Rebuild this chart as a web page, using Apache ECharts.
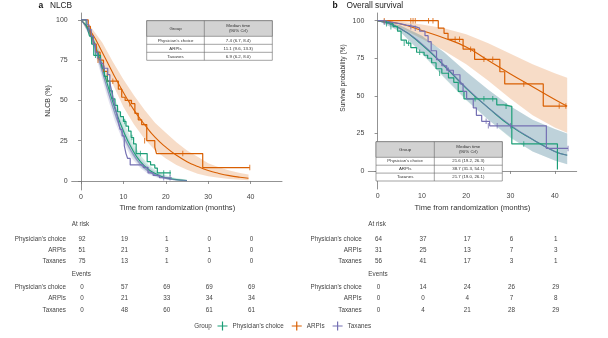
<!DOCTYPE html>
<html>
<head>
<meta charset="utf-8">
<script src="https://cdn.jsdelivr.net/npm/echarts@6/dist/echarts.min.js"></script>
<style>
html,body{margin:0;padding:0;background:#fff;}
#chart{width:608px;height:338px;}
</style>
</head>
<body>
<div id="chart"></div>
<script>
// ---- groups and shared ticks ----
const groups = ["Physician's choice", 'ARPIs', 'Taxanes'];
const colors = ['#1b9e77', '#d95f02', '#7570b3'];
const monthTicks = [0, 10, 20, 30, 40];
const pctTicks = [0, 25, 50, 75, 100];

// ---- panel a: NLCB, Kaplan–Meier steps (months, %) ----
const nlcbPhysT = [0, 1.2, 1.6, 2.0, 2.5, 3.0, 4.6, 5.0, 5.5, 6.2, 6.8, 7.4, 8.0, 8.6, 9.3, 10.0, 10.6, 11.2, 11.8, 12.4, 13.0, 15.6, 16.4, 17.4, 18.0, 21.2];
const nlcbPhysS = [100, 97, 94, 90, 85, 78, 75, 70, 65, 62, 56, 51, 47, 43, 40, 37, 34, 31, 27, 23, 17, 12, 10, 8, 5, 5];
const nlcbArpiT = [0, 1.7, 2.2, 2.9, 3.6, 4.5, 5.3, 6.2, 8.8, 9.6, 10.4, 11.9, 12.7, 13.5, 14.3, 15.5, 17.4, 17.8, 28.7, 39.8];
const nlcbArpiS = [100, 96, 90, 85, 80, 75, 68, 62, 57, 52, 50, 48, 42, 38, 35, 25, 21, 17, 8.3, 8.3];
const nlcbTaxT = [0, 1.4, 1.9, 2.4, 2.9, 3.4, 4.0, 4.6, 5.2, 6.3, 6.8, 7.2, 7.6, 8.0, 8.4, 8.8, 9.2, 9.7, 10.2, 10.6, 11.0, 11.6, 14.7, 15.8, 17.0, 18.5, 21.4];
const nlcbTaxS = [100, 97, 94, 90, 85, 80, 76, 73, 70, 66, 61, 56, 51, 46, 42, 37, 32, 28, 22, 17, 14, 10, 8.5, 5, 3.5, 2, 2];

// censored observations (months, %)
const nlcbPhysCensT = [3.4, 4.1, 10.3, 12.0, 14.0, 19.5, 21.0];
const nlcbPhysCensS = [78, 78, 37, 27, 17, 5, 5];
const nlcbArpiCensT = [4.0, 7.5, 11.5, 15.0, 24.0, 39.8];
const nlcbArpiCensS = [75, 62, 48, 25, 17, 8.3];
const nlcbTaxCensT = [1.7, 5.5, 19.5, 21.0];
const nlcbTaxCensS = [94, 70, 2, 2];

// fitted curves with 90% credible bands
const nlcbFitT = [0, 2, 4, 6, 8, 10, 12, 14, 16, 18, 20, 22, 25];
const nlcbPhysFit = [100, 93, 79, 62, 45, 31, 20, 12, 7, 4, 2, 1, 0.3];
const nlcbPhysLo = [100, 91, 75, 57, 40, 26, 16, 9, 5, 2.5, 1.2, 0.5, 0.1];
const nlcbPhysHi = [100, 95, 83, 67, 51, 37, 25, 16, 10, 6, 3.5, 2, 0.8];
const nlcbTaxFit = [100, 92, 77, 59, 42, 28, 18, 10.5, 6, 3.2, 1.6, 0.8, 0.2];
const nlcbTaxLo = [100, 90, 73, 54, 37, 24, 14, 8, 4, 2, 1, 0.4, 0.1];
const nlcbTaxHi = [100, 94, 81, 64, 47, 33, 22, 14, 8.5, 5, 2.8, 1.5, 0.5];
const nlcbArpiFitT = [0, 2.5, 5, 7.5, 10, 12.5, 15, 17.5, 20, 22.5, 25, 27.5, 30, 32.5, 35, 37.5, 39.5];
const nlcbArpiFit = [100, 92, 80, 67, 55, 44, 35, 27, 21, 16, 12, 9, 6.5, 4.7, 3.3, 2.3, 1.7];
const nlcbArpiLo = [100, 89, 74, 60, 46, 35, 26, 19, 14, 10, 7, 4.5, 3, 2, 1.2, 0.7, 0.4];
const nlcbArpiHi = [100, 95, 86, 74, 63, 53, 44, 36, 30, 24, 19, 15, 11, 8.5, 6.5, 5, 4];

// ---- panel b: overall survival ----
const osPhysT = [0, 1.2, 2.2, 3.5, 4.5, 5.3, 6.5, 7.5, 8.8, 10.5, 11.3, 12.2, 13.2, 14.5, 16.0, 17.2, 18.2, 19.5, 26.9, 28.5, 30.3, 40.6];
const osPhysS = [100, 99, 98, 96, 93, 87, 85, 82, 79, 77, 75, 72, 68, 65, 62, 59, 53, 48, 44, 43, 18, 1];
const osArpiT = [0, 13.7, 15.0, 15.9, 19.3, 21.9, 27.6, 28.7, 37.4, 42.7];
const osArpiS = [100, 95, 91.6, 87.6, 81, 74.3, 66, 57.9, 43.2, 43.2];
const osTaxT = [0, 1.5, 3, 5, 6.5, 8.5, 9.5, 10.7, 11.4, 12.1, 13.3, 14.5, 15.6, 17.1, 18.6, 19.3, 20.1, 21.6, 22.3, 23.5, 25.3, 38.1, 43];
const osTaxS = [100, 99, 98, 97, 96, 95, 93, 90, 86, 80, 74, 70, 67, 64, 58, 53, 48, 42, 37, 33, 30, 15, 15];

const osPhysCensT = [2.0, 3.0, 6.0, 7.0, 9.5, 14.0, 22.0, 24.0, 26.0, 29.0, 33.0];
const osPhysCensS = [98, 96, 85, 85, 79, 65, 48, 48, 48, 43, 18];
const osArpiCensT = [1.5, 7.5, 8.0, 8.5, 11.5, 12.5, 17.5, 18.5, 21.0, 24.0, 26.0, 33.0, 41.0, 42.5];
const osArpiCensS = [100, 100, 100, 100, 100, 100, 87.6, 87.6, 81, 74.3, 74.3, 57.9, 43.2, 43.2];
const osTaxCensT = [1.5, 7.5, 8.5, 16.0, 24.5, 25.0, 27.0, 30.0, 43.0];
const osTaxCensS = [99, 96, 95, 67, 33, 30, 30, 30, 15];

const osFitT = [0, 5, 10, 15, 20, 25, 30, 35, 40, 42.8];
const osPhysFit = [100, 95, 84, 70, 55, 42, 30, 21, 13, 10.5];
const osPhysLo = [100, 93, 78, 62, 47, 34, 22, 13, 7, 4.5];
const osPhysHi = [100, 97, 90, 79, 66, 54, 43, 34, 28, 25];
const osTaxFit = [100, 95, 84.5, 70.5, 55.5, 42, 30.5, 21, 13, 10.5];
const osTaxLo = [100, 93, 78.5, 62.5, 47.5, 34, 22.5, 13, 7, 4.5];
const osTaxHi = [100, 97, 90, 79, 66, 54, 43, 34, 28, 25];
const osArpiFit = [100, 98, 93.5, 88.5, 82.5, 73.5, 64.5, 56, 47.5, 43];
const osArpiLo = [100, 95.5, 88, 80, 71, 60, 48, 37, 29, 25.5];
const osArpiHi = [100, 99.5, 97.5, 95, 91, 85, 78, 71, 65, 62];

// ---- numbers at risk and cumulative events ----
const nlcbAtRisk = [[92, 19, 1, 0, 0], [51, 21, 3, 1, 0], [75, 13, 1, 0, 0]];
const nlcbEvents = [[0, 57, 69, 69, 69], [0, 21, 33, 34, 34], [0, 48, 60, 61, 61]];
const osAtRisk = [[64, 37, 17, 6, 1], [31, 25, 13, 7, 3], [56, 41, 17, 3, 1]];
const osEvents = [[0, 14, 24, 26, 29], [0, 0, 4, 7, 8], [0, 4, 21, 28, 29]];

// ---- median time tables ----
const nlcbMedians = ['7.4 (6.7, 8.4)', '11.1 (9.6, 13.3)', '6.9 (6.2, 8.0)'];
const osMedians = ['21.6 (19.2, 26.3)', '38.7 (31.3, 54.1)', '21.7 (19.0, 26.1)'];

// ---------------------------------------------------------------
const FONT = '"Liberation Sans", Arial, sans-serif';
const pairs = (xs, ys) => xs.map((x, i) => [x, ys[i]]);
const crossIcon = 'path://M0,4.4h10v1.2h-10z M4.4,0.5h1.2v9h-1.2z';
const tickMark = 'path://M0,0h1v10h-1z';

const series = [];

// credible band: one polygon through the upper edge and back along the lower edge
function band(idx, t, lo, hi, color, opacity) {
  series.push({
    type: 'custom', name: 'band', xAxisIndex: idx, yAxisIndex: idx, silent: true, z: 1,
    data: t.map((x, i) => [x, lo[i], hi[i]]),
    encode: { x: 0, y: [1, 2] },
    clip: true,
    renderItem: function (params, api) {
      if (params.dataIndex !== 0) return null;
      const pts = [];
      for (let i = 0; i < t.length; i++) pts.push(api.coord([t[i], hi[i]]));
      for (let i = t.length - 1; i >= 0; i--) pts.push(api.coord([t[i], lo[i]]));
      return {
        type: 'polygon', shape: { points: pts },
        style: { fill: color, opacity: opacity, stroke: null }
      };
    }
  });
}
function fit(idx, t, s, color, opacity) {
  series.push({
    type: 'line', name: 'fit', xAxisIndex: idx, yAxisIndex: idx, data: pairs(t, s),
    smooth: true, symbol: 'none', silent: true,
    lineStyle: { color: color, width: 1.1, opacity: opacity }, z: 3
  });
}
function km(idx, g, t, s, ct, cs) {
  series.push({
    type: 'line', name: groups[g], xAxisIndex: idx, yAxisIndex: idx, data: pairs(t, s),
    step: 'end', symbol: 'none', color: colors[g],
    lineStyle: { color: colors[g], width: 1.2 }, z: 4
  });
  series.push({
    type: 'scatter', name: groups[g], xAxisIndex: idx, yAxisIndex: idx, data: pairs(ct, cs),
    symbol: tickMark, symbolSize: [1, 5.5], color: colors[g],
    itemStyle: { color: colors[g] }, z: 5
  });
}

// panel a
band(0, nlcbArpiFitT, nlcbArpiLo, nlcbArpiHi, colors[1], 0.22);
band(0, nlcbFitT, nlcbPhysLo, nlcbPhysHi, colors[0], 0.2);
band(0, nlcbFitT, nlcbTaxLo, nlcbTaxHi, colors[2], 0.2);
fit(0, nlcbArpiFitT, nlcbArpiFit, colors[1], 1);
fit(0, nlcbFitT, nlcbPhysFit, colors[0], 1);
fit(0, nlcbFitT, nlcbTaxFit, colors[2], 0.7);
km(0, 1, nlcbArpiT, nlcbArpiS, nlcbArpiCensT, nlcbArpiCensS);
km(0, 0, nlcbPhysT, nlcbPhysS, nlcbPhysCensT, nlcbPhysCensS);
km(0, 2, nlcbTaxT, nlcbTaxS, nlcbTaxCensT, nlcbTaxCensS);
// panel b
band(1, osFitT, osArpiLo, osArpiHi, colors[1], 0.22);
band(1, osFitT, osPhysLo, osPhysHi, colors[0], 0.2);
band(1, osFitT, osTaxLo, osTaxHi, colors[2], 0.2);
fit(1, osFitT, osArpiFit, colors[1], 1);
fit(1, osFitT, osPhysFit, colors[0], 1);
fit(1, osFitT, osTaxFit, colors[2], 0.75);
km(1, 1, osArpiT, osArpiS, osArpiCensT, osArpiCensS);
km(1, 0, osPhysT, osPhysS, osPhysCensT, osPhysCensS);
km(1, 2, osTaxT, osTaxS, osTaxCensT, osTaxCensS);

function xAx(idx, min, max) {
  return {
    type: 'value', gridIndex: idx, min: min, max: max,
    axisLine: { show: true, lineStyle: { color: '#777', width: 0.8 } },
    axisTick: { show: true, customValues: monthTicks, length: 3, lineStyle: { color: '#777', width: 0.8 } },
    axisLabel: { customValues: monthTicks, fontSize: 7, color: '#444', margin: 4, fontFamily: FONT },
    splitLine: { show: false }
  };
}
function yAx(idx, min, max) {
  return {
    type: 'value', gridIndex: idx, min: min, max: max,
    axisLine: { show: true, lineStyle: { color: '#777', width: 0.8 } },
    axisTick: { show: true, customValues: pctTicks, length: 3, lineStyle: { color: '#777', width: 0.8 } },
    axisLabel: { customValues: pctTicks, fontSize: 7, color: '#444', margin: 4, fontFamily: FONT },
    splitLine: { show: false }
  };
}

const chart = echarts.init(document.getElementById('chart'), null, { renderer: 'canvas' });
chart.setOption({
  animation: false,
  backgroundColor: '#ffffff',
  grid: [
    { left: 71.7, right: 326, top: 13, bottom: 148 },
    { left: 368.3, right: 31.3, top: 13, bottom: 149 }
  ],
  xAxis: [xAx(0, -2.2, 47.4), xAx(1, -2.1, 44.95)],
  yAxis: [yAx(0, -5.6, 104.3), yAx(1, -12, 105.1)],
  legend: {
    data: groups.map((g, i) => ({ name: g, icon: crossIcon, itemStyle: { color: colors[i], borderWidth: 0 } })),
    left: 217.5, top: 321.5, itemWidth: 10, itemHeight: 9, itemGap: 8, padding: 0,
    textStyle: { fontSize: 6.3, color: '#444', fontFamily: FONT },
    selectedMode: false
  },
  series: series
});

// ---- text elements: titles, axis names, tables ----
const g = [];
function txt(s, x, y, opts) {
  opts = opts || {};
  g.push({
    type: 'text', x: x, y: y, rotation: opts.rot || 0, silent: true, z: 100,
    style: {
      text: s, fill: opts.color || '#444',
      font: (opts.bold ? 'bold ' : '') + (opts.size || 6.3) + 'px ' + FONT,
      textAlign: opts.align || 'left', textVerticalAlign: 'middle',
      align: opts.align || 'left', verticalAlign: 'middle'
    }
  });
}
function ln(x1, y1, x2, y2) {
  g.push({ type: 'line', silent: true, z: 101, shape: { x1, y1, x2, y2 }, style: { stroke: '#666', lineWidth: 0.6 } });
}

// panel titles
txt('a', 38.5, 5.5, { bold: true, size: 8.5, color: '#111' });
txt('NLCB', 50, 5.5, { size: 8.3, color: '#222' });
txt('b', 332.5, 5.5, { bold: true, size: 8.5, color: '#111' });
txt('Overall survival', 346.5, 5.5, { size: 8.3, color: '#222' });

// axis names
txt('NLCB (%)', 48, 101, { rot: Math.PI / 2, align: 'center', size: 7, color: '#333' });
txt('Survival probability (%)', 343.5, 78, { rot: Math.PI / 2, align: 'center', size: 6.6, color: '#333' });
txt('Time from randomization (months)', 177.3, 208.3, { align: 'center', size: 7.6, color: '#333' });
txt('Time from randomization (months)', 472.5, 208.3, { align: 'center', size: 7.6, color: '#333' });

// median time tables
function medianTable(x0, y0, w, colX, hHead, hRow, vals) {
  const h = hHead + 3 * hRow;
  g.push({ type: 'rect', silent: true, z: 99, shape: { x: x0, y: y0, width: w, height: h }, style: { fill: '#fff', stroke: '#666', lineWidth: 0.6 } });
  g.push({ type: 'rect', silent: true, z: 100, shape: { x: x0, y: y0, width: w, height: hHead }, style: { fill: '#d2d2d2', stroke: '#666', lineWidth: 0.6 } });
  ln(colX, y0, colX, y0 + h);
  for (let r = 1; r < 3; r++) ln(x0, y0 + hHead + r * hRow, x0 + w, y0 + hHead + r * hRow);
  const c1 = (x0 + colX) / 2, c2 = (colX + x0 + w) / 2;
  txt('Group', c1, y0 + hHead / 2, { align: 'center', size: 4.4, color: '#333' });
  txt('Median time', c2, y0 + hHead / 2 - 2.6, { align: 'center', size: 4.4, color: '#333' });
  txt('(90% CrI)', c2, y0 + hHead / 2 + 2.6, { align: 'center', size: 4.4, color: '#333' });
  for (let r = 0; r < 3; r++) {
    const yy = y0 + hHead + (r + 0.5) * hRow;
    txt(groups[r], c1, yy, { align: 'center', size: 4.4, color: '#333' });
    txt(vals[r], c2, yy, { align: 'center', size: 4.4, color: '#333' });
  }
}
medianTable(146.7, 20.7, 125.6, 204.3, 15.6, 8, nlcbMedians);
medianTable(376, 141.7, 126.3, 434.3, 15.6, 7.9, osMedians);

// numbers at risk / events beneath each panel
const rowY = { atRisk: 224.3, risk: [239, 250.2, 261.4], events: 274.7, ev: [287.6, 298.6, 310] };
function riskTable(idx, labelRight, atRisk, events) {
  const xs = monthTicks.map(m => chart.convertToPixel({ xAxisIndex: idx }, m));
  const leftX = chart.convertToPixel({ xAxisIndex: idx }, idx === 0 ? -2.2 : -2.1);
  txt('At risk', leftX, rowY.atRisk, { size: 6.3, color: '#444' });
  txt('Events', leftX, rowY.events, { size: 6.3, color: '#444' });
  for (let r = 0; r < 3; r++) {
    txt(groups[r], labelRight, rowY.risk[r], { align: 'right', size: 6.3, color: '#444' });
    txt(groups[r], labelRight, rowY.ev[r], { align: 'right', size: 6.3, color: '#444' });
    xs.forEach((x, k) => {
      txt(String(atRisk[r][k]), x + 1, rowY.risk[r], { align: 'center', size: 6.3, color: '#444' });
      txt(String(events[r][k]), x + 1, rowY.ev[r], { align: 'center', size: 6.3, color: '#444' });
    });
  }
}
riskTable(0, 66, nlcbAtRisk, nlcbEvents);
riskTable(1, 361.7, osAtRisk, osEvents);

// legend caption
txt('Group', 194.3, 326, { size: 6.3, color: '#444' });

chart.setOption({ graphic: g });
</script>
</body>
</html>
